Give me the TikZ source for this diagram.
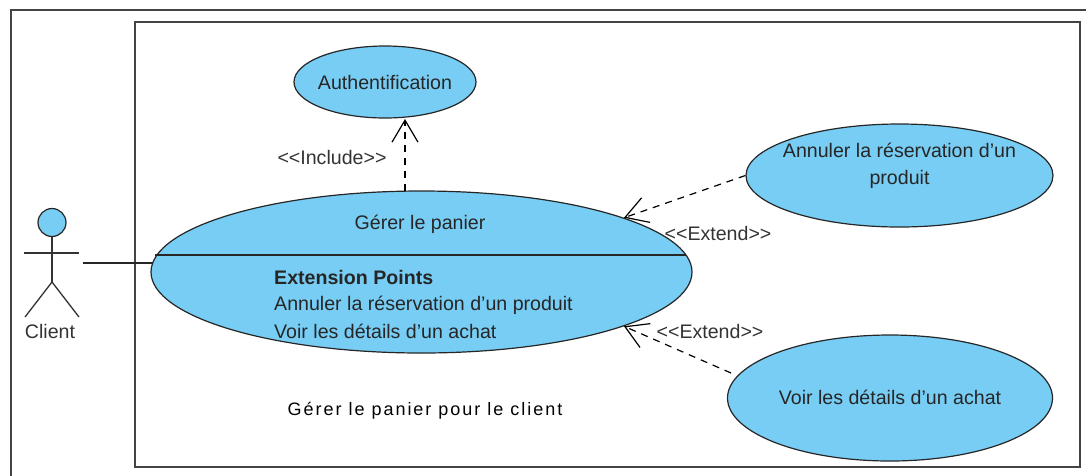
\documentclass[tikz,border=0pt]{standalone}
\usepackage{fontspec}
\setmainfont{Liberation Sans}
\newfontfamily\spacedfont[LetterSpace=11]{Liberation Sans}
\usetikzlibrary{shapes.geometric, arrows.meta}

\definecolor{usecasefill}{HTML}{78CDF4}
\definecolor{framegrey}{HTML}{444444}
\definecolor{labelgrey}{HTML}{333333}

\newcommand{\nowidth}[1]{\makebox[0pt]{#1}}

\tikzset{
	usecase/.style={ellipse, draw=black!85, fill=usecasefill, line width=1.2pt, inner sep=0pt, align=center, font=\fontsize{19.6}{27}\selectfont, text=black!85},
	caption/.style={font=\fontsize{19.6}{24}\selectfont, text=labelgrey, inner sep=0pt},
	depend/.style={dashed, line width=1.2pt, dash pattern=on 7pt off 6pt, -{Straight Barb[length=22pt, width=26pt, line width=1.2pt]}},
	stick/.style={line width=1.3pt, draw=black!80}
}

\begin{document}
\begin{tikzpicture}[x=1pt, y=-1pt]
	\useasboundingbox (0,0) rectangle (1086,475);
	\draw[framegrey, line width=1.6pt] (11,10) rectangle (1095,485);
	\draw[framegrey, line width=1.6pt] (135,22) rectangle (1080,467);
	
	\node[usecase, minimum width=182pt, minimum height=72pt] (auth) at (385,82) {\nowidth{Authentification}};
	\node[usecase, minimum width=541pt, minimum height=162pt] (gerer) at (421.5,272) {};
	\node[usecase, minimum width=307pt, minimum height=103pt] (annuler) at (899.5,175.5) {\nowidth{Annuler la réservation d'un}\\\nowidth{produit}\\[-4pt]\mbox{}};
	\node[usecase, minimum width=325pt, minimum height=126pt] (voir) at (890,398) {\nowidth{\raisebox{2pt}{Voir les détails d'un achat}}};
	
	\node[caption, text=black!85] (panier) at (420,224) {Gérer le panier};
	\node[caption, text=black!85, anchor=west] (points) at (274,277) {\textbf{Extension Points}};
	\node[caption, text=black!85, anchor=west] (point1) at (274,305) {Annuler la réservation d'un produit};
	\node[caption, text=black!85, anchor=west] (point2) at (274,331) {Voir les détails d'un achat};
	\coordinate (divleft) at (155,255);
	\coordinate (divright) at (686,255);
	\draw[line width=1.4pt, black!85] (divleft) -- (divright);
	
	% actor
	\node[circle, draw=black!85, fill=usecasefill, line width=1.2pt, inner sep=0pt, minimum size=28pt] (head) at (52,222.5) {};
	\coordinate (hip) at (52,282);
	\coordinate (armleft) at (24,253);
	\coordinate (armright) at (79,253);
	\coordinate (footleft) at (25,317);
	\coordinate (footright) at (79,317);
	\coordinate (hand) at (83,263);
	\coordinate (handend) at (153,263);
	\draw[stick] (head) -- (hip);
	\draw[stick] (armleft) -- (armright);
	\draw[stick] (footleft) -- (hip) -- (footright);
	\node[caption] (client) at (50,331) {Client};
	
	\draw[line width=1.3pt, black!85] (hand) -- (handend);
	
	\coordinate (incstart) at (405,191);
	\coordinate (incend) at (405,119);
	\coordinate (voirend) at (731,373);
	\draw[depend] (incstart) -- (incend);
	\draw[depend] (annuler.west) -- (gerer.15.2);
	\draw[depend] (voirend) -- (gerer.-15.5);
	
	\node[caption] (include) at (332,157) {<{}<Include>{}>};
	\node[caption] (extend1) at (718,233) {<{}<Extend>{}>};
	\node[caption] (extend2) at (710,331) {<{}<Extend>{}>};
	\node[caption, text=black, font=\spacedfont\fontsize{18}{22}\selectfont] (title) at (425,411) {Gérer le panier pour le client};
\end{tikzpicture}
\end{document}
